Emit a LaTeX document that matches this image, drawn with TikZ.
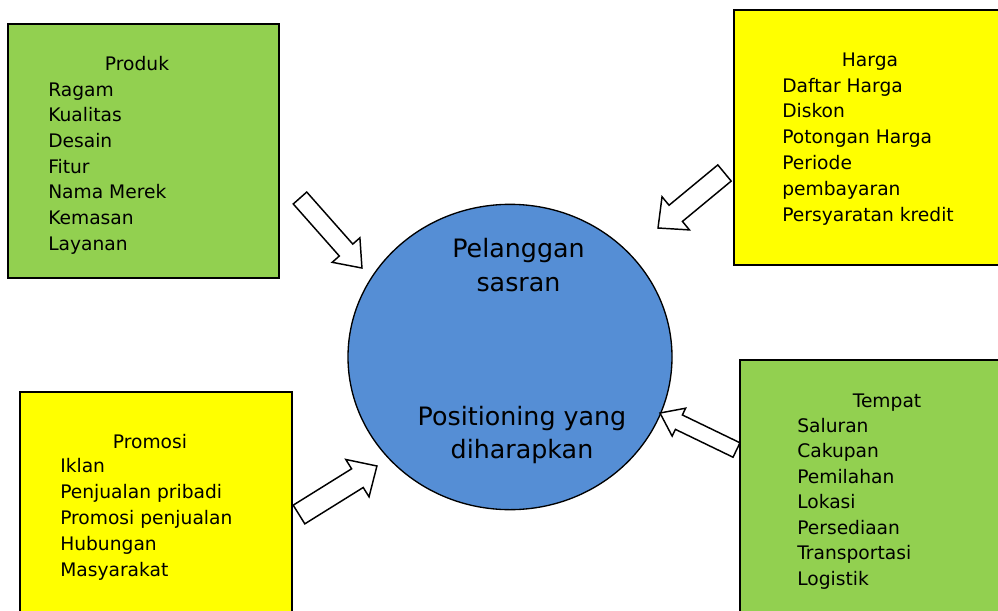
\documentclass[tikz,border=0pt]{standalone}
\usepackage{fontspec}
\setmainfont{DejaVu Sans}
\usetikzlibrary{shapes.geometric}
\definecolor{boxgreen}{HTML}{92D050}
\definecolor{boxyellow}{HTML}{FFFF00}
\definecolor{circblue}{HTML}{558ED5}
% outline of a block arrow pointing along +x: length, shaft width, head width, head length
\newcommand\arrowoutline[4]{(0,{-#2/2}) -- ({#1-#4},{-#2/2}) -- ({#1-#4},{-#3/2}) -- (#1,0) -- ({#1-#4},{#3/2}) -- ({#1-#4},{#2/2}) -- (0,{#2/2}) -- cycle}
\begin{document}
\begin{tikzpicture}[x=0.75pt,y=-0.75pt,
  mixbox/.style={draw=black, line width=1.5pt},
  listtext/.style={font=\fontsize{14}{17}\selectfont, inner sep=0pt, anchor=base west},
  boxtitle/.style={font=\fontsize{14}{17}\selectfont, inner sep=0pt, anchor=base},
  bigtext/.style={font=\fontsize{19}{23}\selectfont, inner sep=0pt, anchor=base},
  blockarrow/.style={draw=black, fill=white, line width=1.1pt, line join=miter}]

\clip (0,0) rectangle (998,610);
\fill[white] (0,0) rectangle (998,610);

% the four mix boxes
\draw[mixbox, fill=boxgreen]  (8,24) rectangle (279,278);
\draw[mixbox, fill=boxyellow] (734,10) rectangle (1010,265);
\draw[mixbox, fill=boxyellow] (20,392) rectangle (292,620);
\draw[mixbox, fill=boxgreen]  (740,360) rectangle (1010,620);

% target customer in the centre
\node (target) [ellipse, draw=black, line width=1pt, fill=circblue,
  minimum width=243pt, minimum height=229pt, inner sep=0pt] at (510,357) {};
\node[bigtext] (t1) at (518.5,257) {Pelanggan};
\node[bigtext] (t2) at (518.5,291) {sasran};
\node[bigtext] (t3) at (522,425) {Positioning yang};
\node[bigtext] (t4) at (522,458) {diharapkan};

% Produk
\node[boxtitle] (produk) at (137,70) {Produk};
\foreach \t [count=\i from 0] in {Ragam,Kualitas,Desain,Fitur,Nama Merek,Kemasan,Layanan}
  \node[listtext] (produk\i) at (48,{96+25.67*\i}) {\t};

% Harga
\node[boxtitle] (harga) at (870,67) {Harga};
\foreach \t [count=\i from 0] in {Daftar Harga,Diskon,Potongan Harga,Periode,pembayaran,Persyaratan kredit}
  \node[listtext] (harga\i) at (782,{92+25.8*\i}) {\t};

% Promosi
\node[boxtitle] (promosi) at (150,448) {Promosi};
\foreach \t [count=\i from 0] in {Iklan,Penjualan pribadi,Promosi penjualan,Hubungan,Masyarakat}
  \node[listtext] (promosi\i) at (60,{472+26.2*\i}) {\t};

% Tempat
\node[boxtitle] (tempat) at (887,407) {Tempat};
\foreach \t [count=\i from 0] in {Saluran,Cakupan,Pemilahan,Lokasi,Persediaan,Transportasi,Logistik}
  \node[listtext] (tempat\i) at (797,{432+25.5*\i}) {\t};

% block arrows pointing at the target
\begin{scope}[shift={(300,198)}, rotate=-48.5]
  \draw[blockarrow] \arrowoutline{93.5}{18}{37}{24};
\end{scope}
\begin{scope}[shift={(724.5,173)}, rotate=-140.4]
  \draw[blockarrow] \arrowoutline{86.3}{21}{43}{23};
\end{scope}
\begin{scope}[shift={(299,514.5)}, rotate=31.9]
  \draw[blockarrow] \arrowoutline{91.8}{22}{44}{23};
\end{scope}
\begin{scope}[shift={(736.5,450)}, rotate=154.2]
  \draw[blockarrow] \arrowoutline{85}{16}{31}{21};
\end{scope}
\end{tikzpicture}
\end{document}
